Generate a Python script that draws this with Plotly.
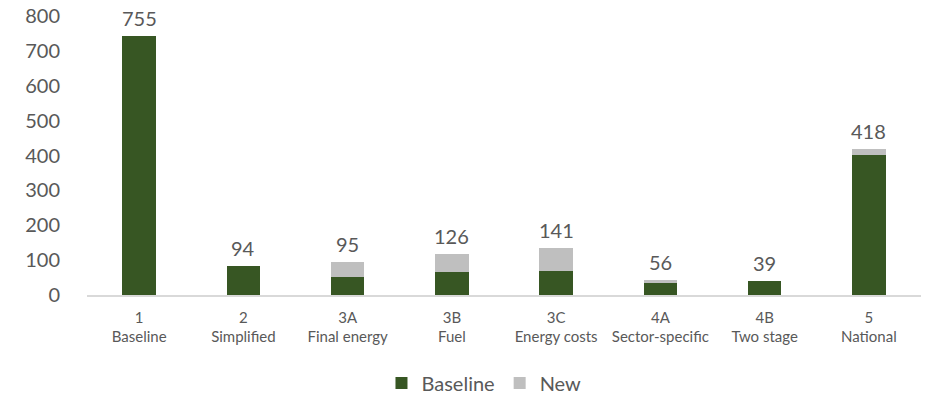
import plotly.graph_objects as go

categories = ["1<br>Baseline", "2<br>Simplified", "3A<br>Final energy", "3B<br>Fuel",
              "3C<br>Energy costs", "4A<br>Sector-specific", "4B<br>Two stage", "5<br>National"]
baseline = [742, 83, 52, 66, 69, 37, 39, 401]
new = [0, 0, 43, 51, 66, 5, 0, 17]
total_labels = ["755", "94", "95", "126", "141", "56", "39", "418"]
y_ticks = [0, 100, 200, 300, 400, 500, 600, 700, 800]

GREEN = "#375623"
GREY = "#BFBFBF"
TEXT = "#595959"
FONT = "Lato"

fig = go.Figure()
fig.add_trace(go.Bar(x=categories, y=baseline, name="Baseline", marker_color=GREEN,
                     marker_line_width=0))
fig.add_trace(go.Bar(x=categories, y=new, name="New", marker_color=GREY,
                     marker_line_width=0))

for c, b, n, t in zip(categories, baseline, new, total_labels):
    fig.add_annotation(x=c, y=b + n, text=t, showarrow=False, yanchor="bottom",
                       yshift=4, font=dict(family=FONT, size=20, color=TEXT))

fig.update_layout(
    barmode="stack",
    bargap=0.68,
    width=925, height=396,
    margin=dict(l=87, r=4, t=16, b=101, autoexpand=False),
    paper_bgcolor="white", plot_bgcolor="white",
    font=dict(family=FONT, color=TEXT),
    showlegend=True,
    legend=dict(orientation="h", x=0.476, xanchor="center", yref="container",
                y=0.033, yanchor="middle",
                font=dict(family=FONT, size=20, color=TEXT), itemsizing="constant",
                traceorder="normal"),
    xaxis=dict(showline=True, linecolor="#D9D9D9", linewidth=1.5,
               ticks="outside", ticklen=8, tickcolor="rgba(0,0,0,0)",
               tickfont=dict(family=FONT, size=15, color=TEXT), showgrid=False),
    yaxis=dict(range=[0, 800], tickvals=y_ticks, showgrid=False, zeroline=False,
               showline=False, ticks="outside", ticklen=22, tickcolor="rgba(0,0,0,0)",
               tickfont=dict(family=FONT, size=20, color=TEXT)),
)

fig.write_html("out.html")
